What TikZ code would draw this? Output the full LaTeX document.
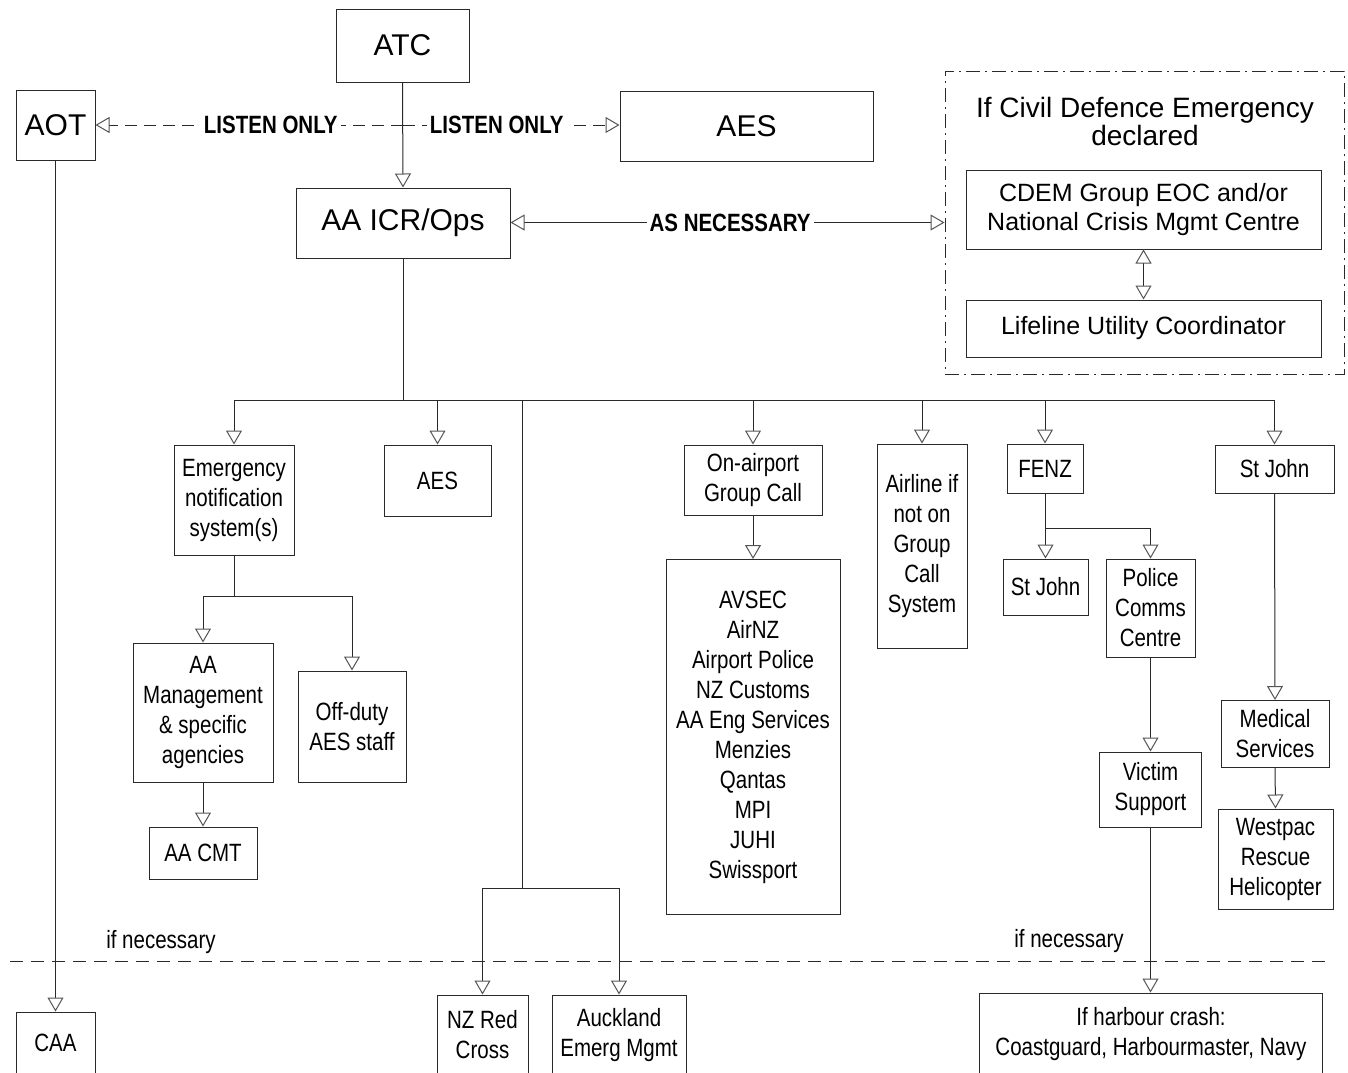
\documentclass[tikz,border=0pt]{standalone}
\usepackage{fontspec}
\setmainfont{Liberation Sans}
\newfontfamily\nar[FakeStretch=0.82]{Liberation Sans}
\usetikzlibrary{arrows.meta}
\definecolor{ln}{HTML}{2A2A2A}
\definecolor{tipc}{HTML}{555555}
\begin{document}
\begin{tikzpicture}[x=1pt,y=-1pt,
 wh/.style 2 args={minimum width=#1pt, minimum height=#2pt},
 box/.style={draw=ln, line width=1pt, inner sep=0pt, align=center, font=\nar\fontsize{25}{30}\selectfont},
 big/.style={box, font=\fontsize{30}{34}\selectfont},
 cdem/.style={box, font=\fontsize{25}{29}\selectfont},
 con/.style={draw=ln, line width=1pt},
 arr/.style={con, -{Triangle[open, length=14pt, width=16pt, color=tipc]}},
 arrs/.style={con, {Triangle[open, length=14pt, width=16pt, color=tipc]}-{Triangle[open, length=14pt, width=16pt, color=tipc]}},
 lbl/.style={fill=white, inner sep=3pt, font=\nar\bfseries\fontsize{25}{30}\selectfont},
 note/.style={inner sep=0pt, font=\nar\fontsize{25}{30}\selectfont}]
\fill[white] (0,0) rectangle (1348,1072);
\clip (0,0) rectangle (1348,1072);

% top nodes
\node[big, wh={133}{73}] (atc) at (402.5,45.5) {ATC};
\node[big, wh={79}{70}] (aot) at (55.5,125) {AOT};
\node[big, wh={253}{70}] (aes) at (746.5,126) {AES};
\node[big, wh={214}{70}] (icr) at (403,223) {AA ICR/Ops};

% civil defence group
\node[draw=ln, line width=1pt, dash pattern=on 14pt off 5pt on 2pt off 5pt, wh={399}{303}, inner sep=0pt] (cdb) at (1144.5,222.5) {};
\node[inner sep=0pt, align=center, font=\fontsize{28}{28}\selectfont] (cdt) at (1145,121) {If Civil Defence Emergency\\declared};
\node[cdem, wh={355}{79}] (cdem) at (1143.5,209.5) {CDEM Group EOC and/or\\National Crisis Mgmt Centre};
\node[cdem, wh={355}{57}] (life) at (1143.5,328.5) {Lifeline Utility Coordinator};

% second level
\node[box, wh={120}{110}] (ens) at (234,500) {Emergency\\notification\\system(s)};
\node[box, wh={107}{71}] (aes2) at (437.5,480.5) {AES};
\node[box, wh={138}{70}] (oag) at (753,480) {On-airport\\Group Call};
\node[box, wh={174}{355}] (lst) at (753,737) {AVSEC\\AirNZ\\Airport Police\\NZ Customs\\AA Eng Services\\Menzies\\Qantas\\MPI\\JUHI\\Swissport};
\node[box, wh={90}{204}] (air) at (922,546) {Airline if\\not on\\Group\\Call\\System};
\node[box, wh={76}{49}] (fenz) at (1045,468.5) {FENZ};
\node[box, wh={119}{48}] (sjr) at (1274.5,469) {St John};
\node[box, wh={85}{56}] (sjm) at (1045.5,587) {St John};
\node[box, wh={89}{98}] (pol) at (1150.5,608) {Police\\Comms\\Centre};
\node[box, wh={102}{75}] (vic) at (1150.5,789.5) {Victim\\Support};
\node[box, wh={108}{67}] (med) at (1275,734) {Medical\\Services};
\node[box, wh={115}{100}] (wp) at (1275.5,859) {Westpac\\Rescue\\Helicopter};
\node[box, wh={140}{139}] (aam) at (203,712.5) {AA\\Management\\\& specific\\agencies};
\node[box, wh={108}{111}] (off) at (352,726.5) {Off-duty\\AES staff};
\node[box, wh={108}{52}] (cmt) at (203,853) {AA CMT};

% bottom row
\node[box, wh={91}{80}] (rc) at (482.5,1035) {NZ Red\\Cross};
\node[box, wh={134}{80}] (ak) at (619,1035) {Auckland\\Emerg Mgmt};
\node[box, wh={343}{82}] (har) at (1151,1034) {If harbour crash:\\Coastguard, Harbourmaster, Navy};
\node[box, wh={79}{62}] (caa) at (55.5,1043) {CAA};

% top connectors
\coordinate (lj) at (403,125);
\draw[arr] (atc.south) -- (icr.north);
\draw[arr, dash pattern=on 12pt off 7pt] (lj) -- (aot.east) node[lbl, pos=0.43] (l1) {LISTEN ONLY};
\draw[arr, dash pattern=on 12pt off 7pt] (lj) -- (aes.west |- lj) node[lbl, pos=0.433] (l2) {LISTEN ONLY};
\draw[arrs] (icr.east |- cdb.west) -- (cdb.west) node[lbl, pos=0.506] (l3) {AS NECESSARY};
\draw[arrs] (cdem.south) -- (life.north);

% bus
\coordinate (bus) at (403,400);
\draw[con] (icr.south) -- (bus);
\draw[con] (ens.north |- bus) -- (sjr.north |- bus);
\draw[arr] (ens.north |- bus) -- (ens.north);
\draw[arr] (aes2.north |- bus) -- (aes2.north);
\draw[arr] (oag.north |- bus) -- (oag.north);
\draw[arr] (air.north |- bus) -- (air.north);
\draw[arr] (fenz.north |- bus) -- (fenz.north);
\draw[arr] (sjr.north |- bus) -- (sjr.north);

% branch to red cross / auckland
\coordinate (sp) at (522,888);
\draw[con] (sp |- bus) -- (sp);
\draw[con] (rc.north |- sp) -- (ak.north |- sp);
\draw[arr] (rc.north |- sp) -- (rc.north);
\draw[arr] (ak.north |- sp) -- (ak.north);

% emergency notification branch
\coordinate (ej) at (234,596);
\draw[con] (ens.south) -- (ej);
\draw[con] (aam.north |- ej) -- (off.north |- ej);
\draw[arr] (aam.north |- ej) -- (aam.north);
\draw[arr] (off.north |- ej) -- (off.north);
\draw[arr] (aam.south) -- (cmt.north);

% on-airport
\draw[arr] (oag.south) -- (lst.north);

% FENZ branch
\coordinate (fj) at (1045,528);
\draw[con] (fenz.south) -- (fj);
\draw[con] (sjm.north |- fj) -- (pol.north |- fj);
\draw[arr] (sjm.north |- fj) -- (sjm.north);
\draw[arr] (pol.north |- fj) -- (pol.north);
\draw[arr] (pol.south) -- (vic.north);
\draw[arr] (vic.south) -- (vic.south |- har.north);

% St John branch
\draw[arr] (sjr.south) -- (med.north);
\draw[arr] (med.south) -- (wp.north);

% AOT to CAA
\draw[arr] (aot.south) -- (caa.north);

% separator
\coordinate (s1) at (10,961);
\coordinate (s2) at (1325,961);
\draw[con, dash pattern=on 13pt off 8pt] (s1) -- (s2);
\node[note] (n1) at (161,942) {if necessary};
\node[note] (n2) at (1069,941) {if necessary};
\end{tikzpicture}
\end{document}
